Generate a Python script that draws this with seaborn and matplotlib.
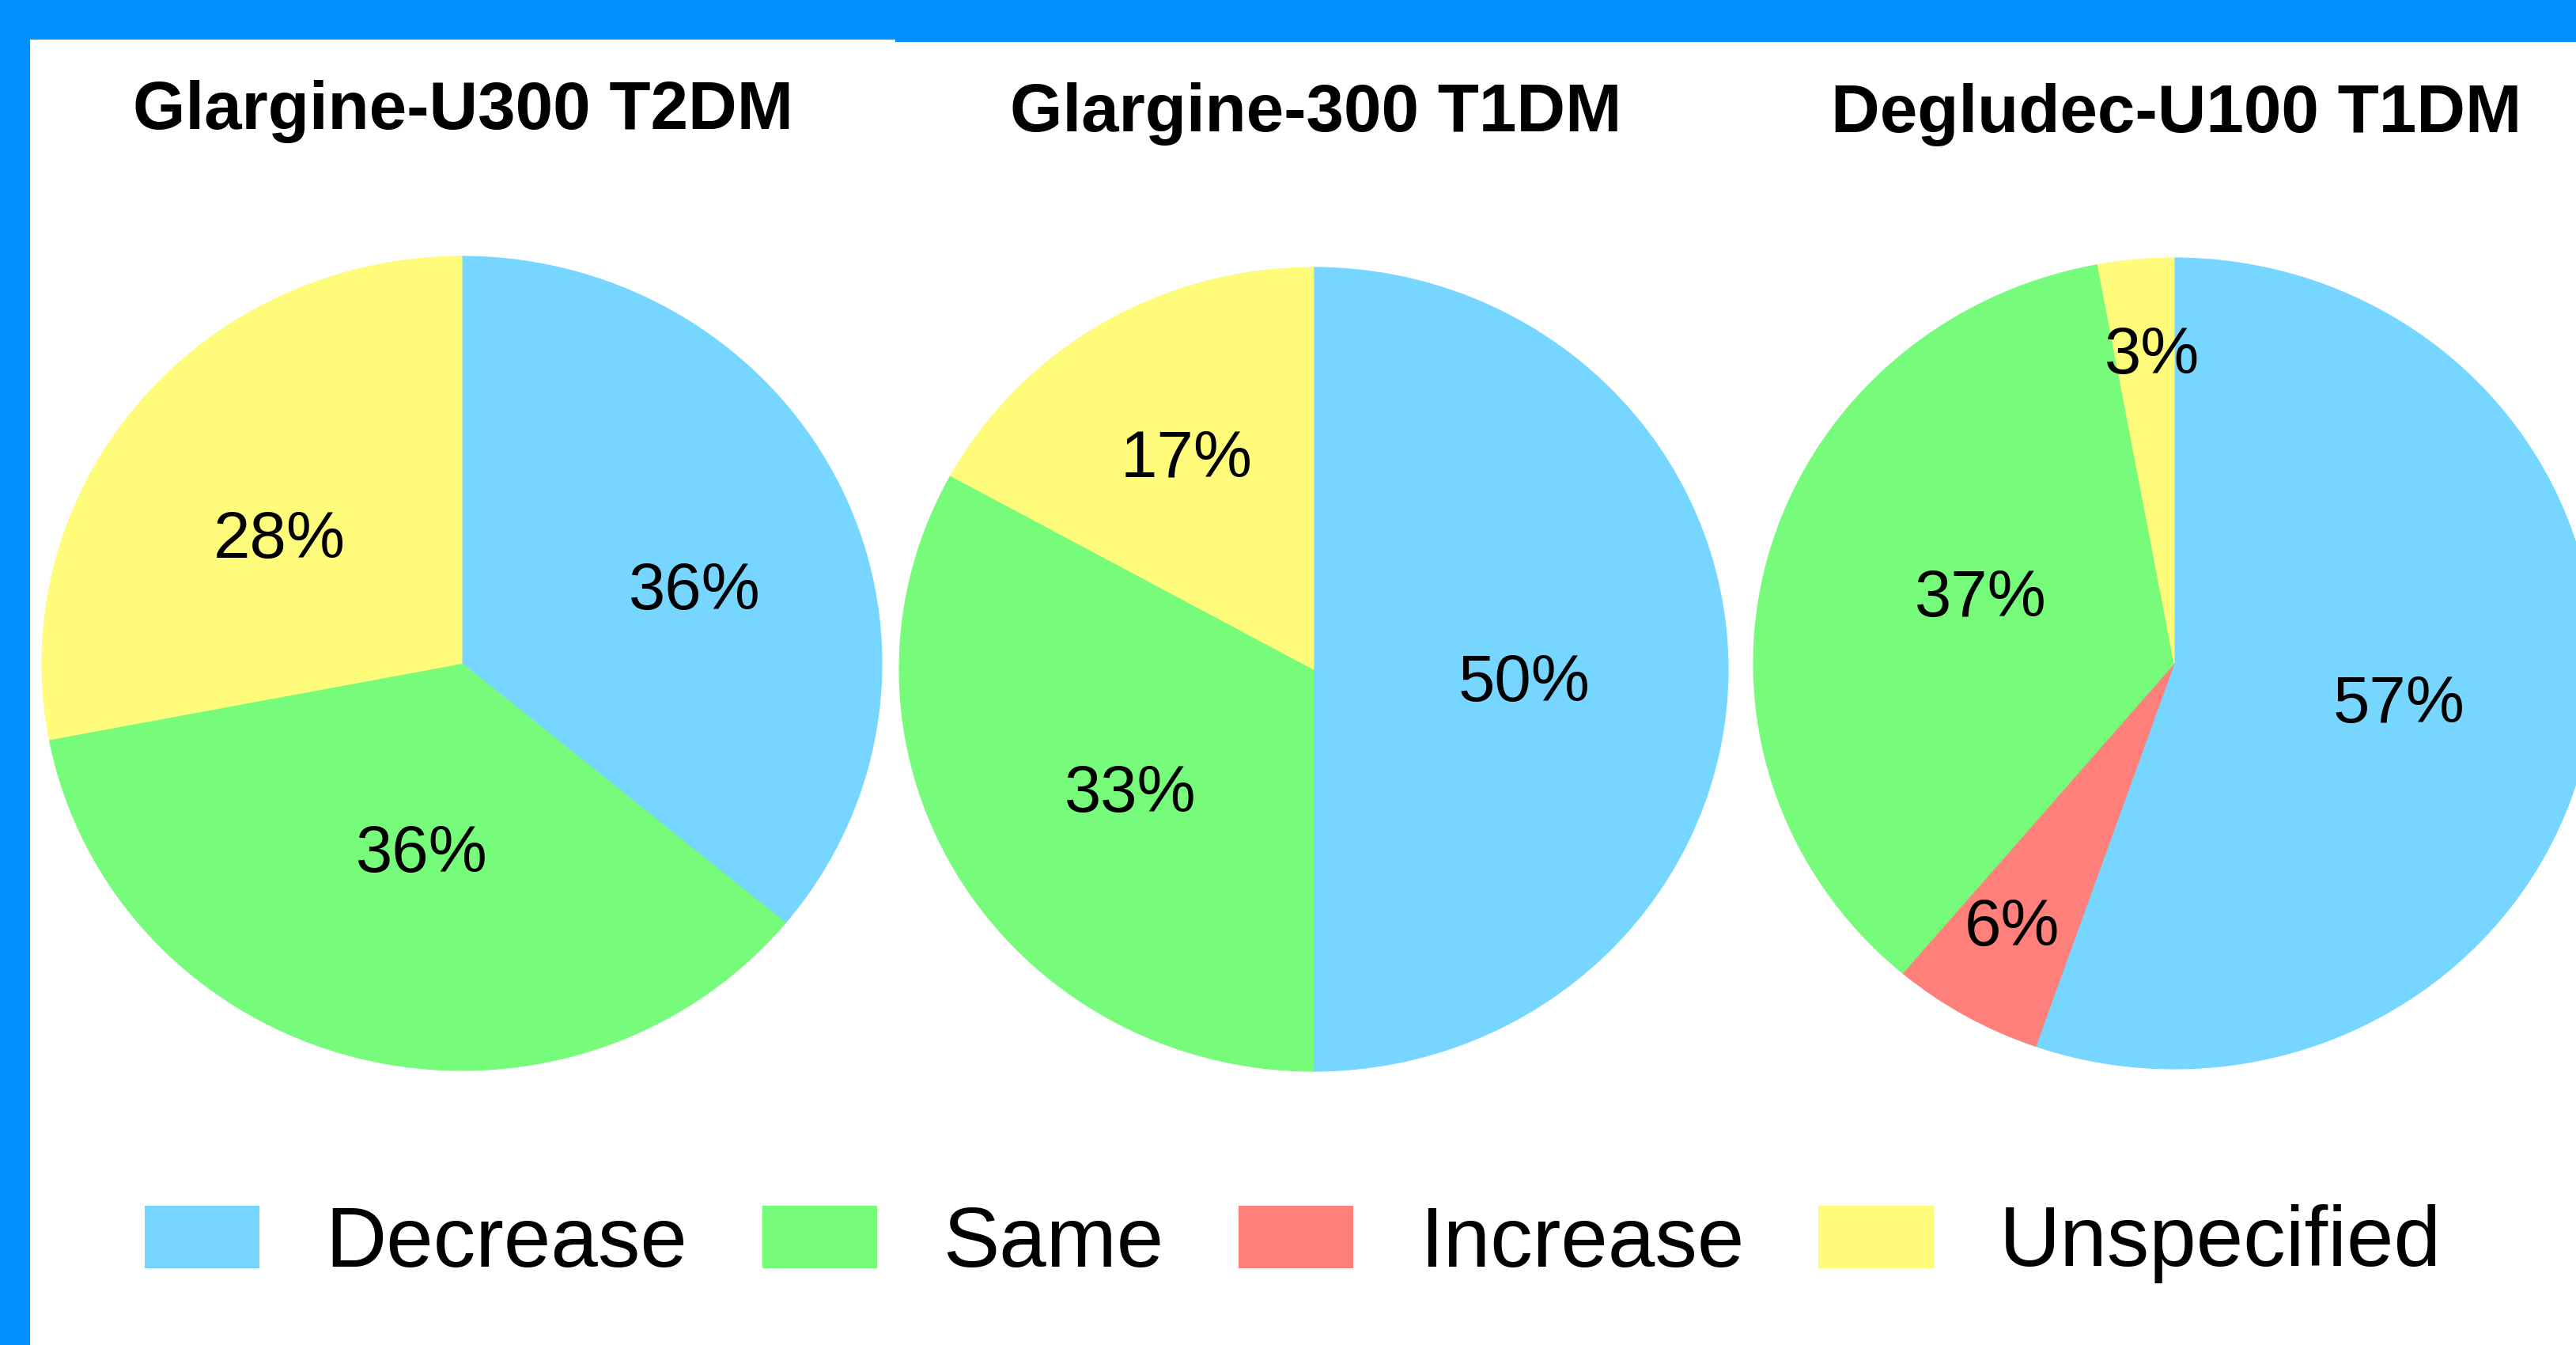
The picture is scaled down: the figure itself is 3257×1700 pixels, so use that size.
import numpy as np
import matplotlib
matplotlib.use("Agg")
import matplotlib.pyplot as plt
import matplotlib.transforms as mtransforms
from matplotlib.patches import Patch, Rectangle
import seaborn as sns

# ---- data ----------------------------------------------------------------
slice_order = ["Decrease", "Increase", "Same", "Unspecified"]
legend_order = ["Decrease", "Same", "Increase", "Unspecified"]
titles = ["Glargine-U300 T2DM", "Glargine-300 T1DM", "Degludec-U100 T1DM"]
glargine_u300_t2dm = [36, 0, 36, 28]
glargine_300_t1dm = [50, 0, 33, 17]
degludec_u100_t1dm = [57, 6, 37, 3]
series = [glargine_u300_t2dm, glargine_300_t1dm, degludec_u100_t1dm]

# ---- style ---------------------------------------------------------------
sns.set_theme(style="white")
plt.rcParams["font.family"] = ["Liberation Sans", "DejaVu Sans"]
plt.rcParams["text.color"] = "black"

palette = dict(zip(
    ["Decrease", "Same", "Increase", "Unspecified"],
    sns.color_palette(["#77D6FF", "#76FB7A", "#FF7F7A", "#FFFB7B"]),
))
border_color = "#0091FF"

W, H = 3257, 1700
DPI = 100
fig = plt.figure(figsize=(W / DPI, H / DPI), dpi=DPI)
fig.patch.set_facecolor("white")


def px_box(left, top, width, height):
    """Pixel box (top-left origin) -> figure fraction rect."""
    return [left / W, 1 - (top + height) / H, width / W, height / H]


# pie boxes in pixels: left, top, width, height
pie_boxes = [
    (53, 324, 1062, 1029),
    (1137, 338, 1048, 1016),
    (2217, 326, 1064, 1025),
]
# per-label radial distance and angular nudge (degrees)
label_dist = [
    [0.587, 0.463, 0.539],
    [0.509, 0.533, 0.619],
    [0.540, 0.745, 0.492, 0.775],
]
label_nudge = [
    [-6.2, 2.6, 3.4],
    [-2.2, 3.2, -0.8],
    [0.4, -1.4, -6.0, -1.3],
]
title_x = [585, 1664, 2752]
title_baseline = [163, 166, 167]

label_size = 60
for i, (vals, box) in enumerate(zip(series, pie_boxes)):
    ax = fig.add_axes(px_box(*box))
    cats = [c for c, v in zip(slice_order, vals) if v > 0]
    v = [v for v in vals if v > 0]
    cols = [palette[c] for c in cats]
    wedges, _ = ax.pie(
        v, colors=cols, startangle=90, counterclock=False, radius=1,
        wedgeprops=dict(linewidth=0.8, antialiased=True),
    )
    for w, c in zip(wedges, cols):
        w.set_edgecolor(c)
    ax.set_aspect("auto")
    ax.set_xlim(-1, 1)
    ax.set_ylim(-1, 1)
    ax.axis("off")

    trans = mtransforms.offset_copy(ax.transData, fig=fig,
                                    y=-0.358 * label_size, units="points")
    for w, val, d, nd in zip(wedges, v, label_dist[i], label_nudge[i]):
        mid = np.deg2rad((w.theta1 + w.theta2) / 2 + nd)
        ax.text(d * np.cos(mid), d * np.sin(mid), f"{val}%",
                ha="center", va="baseline", fontsize=label_size,
                color="black", transform=trans)

    fig.text(title_x[i] / W, 1 - title_baseline[i] / H, titles[i],
             ha="center", va="baseline", fontsize=61.5,
             fontweight="bold", color="black")

# legend
handles = [Patch(facecolor=palette[c], edgecolor="none", label=c)
           for c in legend_order]
leg = fig.legend(handles=handles, loc="center", bbox_to_anchor=(0.502, 0.075),
                 ncol=4, frameon=False, fontsize=77,
                 handlelength=1.36, handleheight=0.76,
                 handletextpad=0.78, columnspacing=0.88)
for t in leg.get_texts():
    t.set_color("black")

# frame bands along the top and left edges
for (l, t, w, h) in [(0, 0, W, 50), (1132, 0, W - 1132, 53), (0, 0, 38, H)]:
    fig.add_artist(Rectangle((l / W, 1 - (t + h) / H), w / W, h / H,
                             transform=fig.transFigure, facecolor=border_color,
                             edgecolor="none", zorder=10))

fig.savefig("out.png", dpi=DPI)
